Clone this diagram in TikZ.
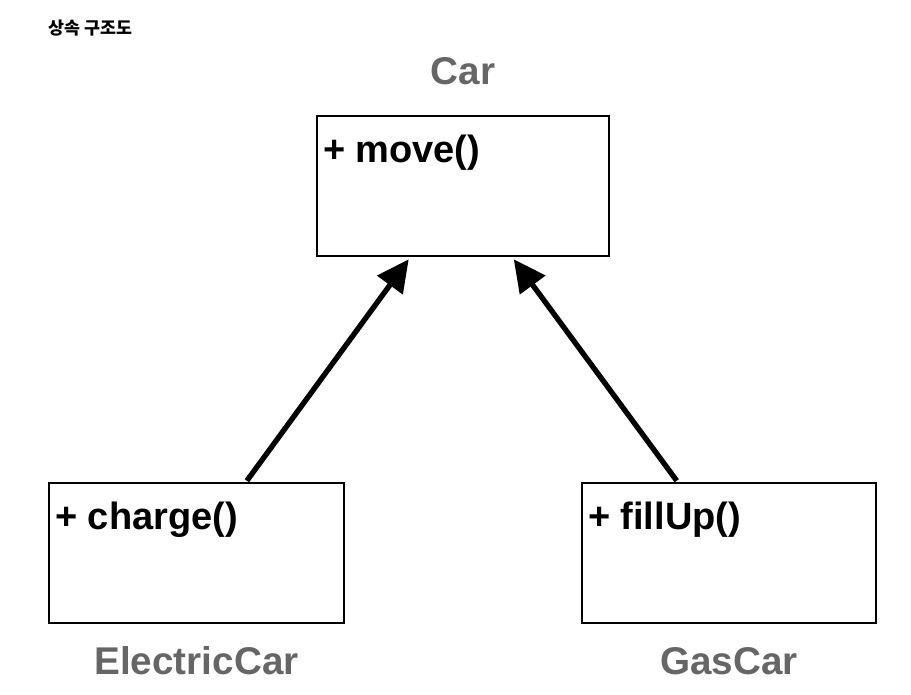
\documentclass[tikz,border=0pt]{standalone}
\usepackage{fontspec}
\setmainfont{Liberation Sans}
\newfontfamily\krfont{Noto Sans CJK KR}
\usetikzlibrary{arrows.meta,calc}
\definecolor{labelgray}{RGB}{102,102,102}
\begin{document}
\begin{tikzpicture}[x=0.75pt,y=-0.75pt,
  cls/.style={draw=black,line width=1.9pt,minimum width=220pt,minimum height=105pt,inner sep=0pt},
  member/.style={anchor=base west,inner sep=0pt,font=\fontsize{28.5}{33}\selectfont\bfseries},
  clsname/.style={anchor=base,inner sep=0pt,text=labelgray,font=\fontsize{29}{34}\selectfont\bfseries},
  inh/.style={line width=4pt,-{Triangle[length=24pt,width=23pt]}}]
\useasboundingbox (0,0) rectangle (911,695);
\node[anchor=base west,inner sep=0pt,font=\krfont\bfseries\fontsize{13}{15}\selectfont] (title) at (48,35) {상속 구조도};
\node[cls,minimum width=219pt] (car) at (463,186) {};
\node[cls,minimum width=221pt] (ec) at (196.5,553) {};
\node[cls,minimum width=220.5pt] (gc) at (729,553) {};
\node[member] (carm) at ($(car.north west)+(7,48)$) {+ move()};
\node[member] (ecm) at ($(ec.north west)+(7,48)$) {+ charge()};
\node[member] (gcm) at ($(gc.north west)+(7,48)$) {+ fillUp()};
\node[clsname] (carl) at ($(car.north)+(0,-30)$) {Car};
\node[clsname] (ecl) at ($(ec.south)+(0,50)$) {ElectricCar};
\node[clsname] (gcl) at ($(gc.south)+(0,50)$) {GasCar};
\draw[inh] ($(ec.north west)+(199,-1)$) -- ($(car.south west)+(93,2)$);
\draw[inh] ($(gc.north west)+(96,-1)$) -- ($(car.south west)+(198,2)$);
\end{tikzpicture}
\end{document}
